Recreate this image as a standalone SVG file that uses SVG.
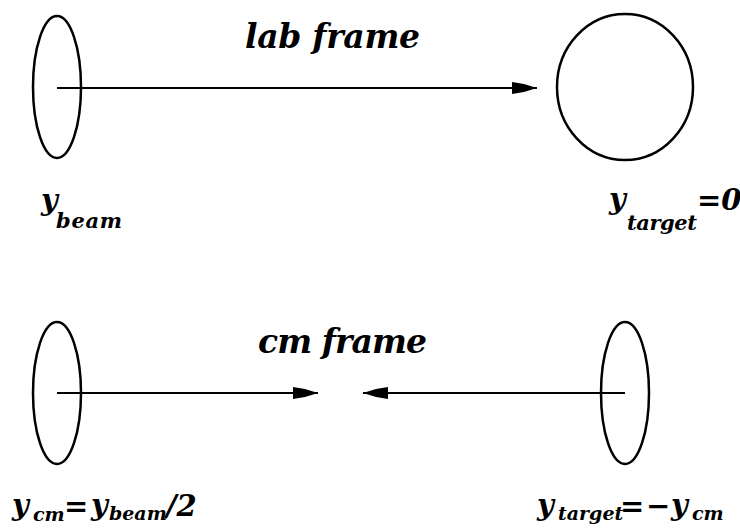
<svg xmlns="http://www.w3.org/2000/svg" width="740" height="530" viewBox="0 0 740 530">
<style>
.shape{fill:none;stroke:#000;stroke-width:2.5}
.conn{fill:none;stroke:#000;stroke-width:2}
.t{font-family:"DejaVu Serif","Liberation Serif",serif;font-weight:bold;font-style:italic;fill:#000}
.big{font-size:29px}
.sub{font-size:21px}
.sub2{font-size:19px}
.title{font-size:33px}
</style>
<defs>
<marker id="arr" viewBox="0 0 25 12" refX="25" refY="6" markerWidth="25" markerHeight="12" markerUnits="userSpaceOnUse" orient="auto">
<path d="M0,0 L12,2 L25,6 L12,10 L0,12 Z" fill="#000"/>
</marker>
</defs>
<rect width="740" height="530" fill="#fff"/>
<g id="beam-lab">
<ellipse class="shape" cx="57" cy="87" rx="24" ry="71"/>
<text class="t"><tspan class="big" x="41" y="210">y</tspan><tspan class="sub" x="56" y="228" textLength="66">beam</tspan></text>
</g>
<g id="target-lab">
<ellipse class="shape" cx="625" cy="87" rx="68" ry="73"/>
<text class="t"><tspan class="big" x="609" y="209">y</tspan><tspan class="sub" x="627" y="230" textLength="70">target</tspan><tspan class="big" x="697" y="210">=0</tspan></text>
</g>
<g id="lab-title">
<text class="t title" x="245" y="48" textLength="175">lab frame</text>
</g>
<g id="beam-cm">
<ellipse class="shape" cx="57" cy="393" rx="24" ry="71"/>
<text class="t"><tspan class="big" x="12" y="515">y</tspan><tspan class="sub2" x="33" y="521">cm</tspan><tspan class="big" x="64" y="516">=</tspan><tspan class="big" x="91" y="515">y</tspan><tspan class="sub2" x="109" y="520">beam</tspan><tspan class="big" x="166" y="516">/2</tspan></text>
</g>
<g id="target-cm">
<ellipse class="shape" cx="625" cy="393" rx="24" ry="71"/>
<text class="t"><tspan class="big" x="537" y="515">y</tspan><tspan class="sub2" x="558" y="520">target</tspan><tspan class="big" x="620" y="516">=</tspan><tspan class="big" x="646" y="516">−</tspan><tspan class="big" x="671" y="515">y</tspan><tspan class="sub2" x="692" y="520">cm</tspan></text>
</g>
<g id="cm-title">
<text class="t title" x="258" y="353" textLength="169">cm frame</text>
</g>
<g id="connectors">
<line class="conn" x1="57" y1="88" x2="537" y2="88" marker-end="url(#arr)"/>
<line class="conn" x1="57" y1="393" x2="318" y2="393" marker-end="url(#arr)"/>
<line class="conn" x1="625" y1="393" x2="363" y2="393" marker-end="url(#arr)"/>
</g>
</svg>
